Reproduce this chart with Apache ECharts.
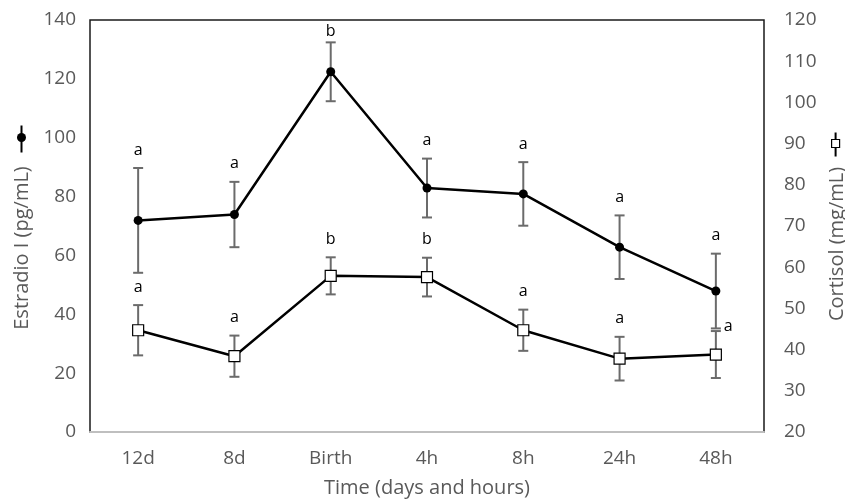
<!DOCTYPE html>
<html>
<head>
<meta charset="utf-8">
<script src="https://cdn.jsdelivr.net/npm/echarts@6/dist/echarts.min.js"></script>
<style>
  html, body { margin: 0; padding: 0; background: #fff; }
  #main { width: 845px; height: 503px; }
</style>
</head>
<body>
<div id="main"></div>
<script>
var chartDom = document.getElementById('main');
var myChart = echarts.init(chartDom);

// data
var categories = ['12d', '8d', 'Birth', '4h', '8h', '24h', '48h'];
var estradiolMean = [71.9, 73.9, 122.4, 82.9, 80.9, 62.8, 47.9];
var estradiolErr = [17.8, 11.1, 10.0, 10.0, 10.8, 10.8, 12.7];
var estradiolLetters = ['a', 'a', 'b', 'a', 'a', 'a', 'a'];
var cortisolMean = [44.7, 38.4, 57.9, 57.6, 44.7, 37.8, 38.8];
var cortisolErr = [6.1, 5.0, 4.5, 4.7, 5.0, 5.3, 5.7];
var cortisolLetters = ['a', 'a', 'b', 'b', 'a', 'a', 'a'];

var font = '"Open Sans", "Noto Sans", sans-serif';
var gridTop = 20;

function errData(mean, err, letters) {
    return mean.map(function (m, i) {
        return [i, m - err[i], m + err[i], letters[i]];
    });
}

// error bars + significance letters
function renderErr(sideLabelIndex) {
    return function (params, api) {
        var i = api.value(0);
        var lo = api.coord([i, api.value(1)]);
        var hi = api.coord([i, api.value(2)]);
        var cap = 5;
        var st = { stroke: '#6b6b6b', lineWidth: 2 };
        var side = (i === sideLabelIndex);
        var ty = side ? hi[1] - 5 : Math.max(hi[1] - 18, gridTop + 11);
        return {
            type: 'group',
            children: [
                { type: 'line', shape: { x1: hi[0], y1: hi[1], x2: lo[0], y2: lo[1] }, style: st },
                { type: 'line', shape: { x1: hi[0] - cap, y1: hi[1], x2: hi[0] + cap, y2: hi[1] }, style: st },
                { type: 'line', shape: { x1: lo[0] - cap, y1: lo[1], x2: lo[0] + cap, y2: lo[1] }, style: st },
                {
                    type: 'text',
                    style: {
                        text: api.value(3),
                        x: side ? hi[0] + 8 : hi[0],
                        y: ty,
                        align: side ? 'left' : 'center',
                        verticalAlign: 'middle',
                        fill: '#000',
                        font: '16px ' + font
                    }
                }
            ]
        };
    };
}

var option = {
    animation: false,
    grid: {
        left: 90,
        right: 81,
        top: gridTop,
        bottom: 71,
        outerBoundsMode: 'none',
        containLabel: false,
        show: true,
        borderColor: '#1a1a1a',
        borderWidth: 1.5
    },
    xAxis: {
        type: 'category',
        data: categories,
        boundaryGap: true,
        name: 'Time (days and hours)',
        nameLocation: 'middle',
        nameGap: 46,
        nameTextStyle: { color: '#595959', fontSize: 20, fontFamily: font },
        axisLine: { lineStyle: { color: '#bfbfbf', width: 2 } },
        axisTick: { show: false },
        axisLabel: { color: '#595959', fontSize: 19, fontFamily: font, margin: 17 }
    },
    yAxis: [{
        type: 'value',
        min: 0,
        max: 140,
        interval: 20,
        position: 'left',
        name: 'Estradio I (pg/mL)',
        nameLocation: 'middle',
        nameGap: 58,
        nameTextStyle: { color: '#595959', fontSize: 20, fontFamily: font, padding: [0, 44, 0, 0] },
        axisLine: { show: false },
        axisTick: { show: false },
        splitLine: { show: false },
        axisLabel: { color: '#595959', fontSize: 19, fontFamily: font, margin: 14 }
    }, {
        type: 'value',
        min: 20,
        max: 120,
        interval: 10,
        position: 'right',
        name: 'Cortisol (mg/mL)',
        nameLocation: 'middle',
        nameGap: 62,
        nameTextStyle: { color: '#595959', fontSize: 20, fontFamily: font, padding: [0, 36, 0, 0] },
        axisLine: { show: false },
        axisTick: { show: false },
        splitLine: { show: false },
        axisLabel: { color: '#595959', fontSize: 19, fontFamily: font, margin: 20 }
    }],
    series: [{
        type: 'custom',
        yAxisIndex: 0,
        data: errData(estradiolMean, estradiolErr, estradiolLetters),
        renderItem: renderErr(-1),
        z: 1
    }, {
        type: 'custom',
        yAxisIndex: 1,
        data: errData(cortisolMean, cortisolErr, cortisolLetters),
        renderItem: renderErr(6),
        z: 1
    }, {
        name: 'Estradio I',
        type: 'line',
        yAxisIndex: 0,
        data: estradiolMean,
        symbol: 'circle',
        symbolSize: 9,
        lineStyle: { color: '#000', width: 2.5 },
        itemStyle: { color: '#000' },
        z: 3
    }, {
        name: 'Cortisol',
        type: 'line',
        yAxisIndex: 1,
        data: cortisolMean,
        symbol: 'rect',
        symbolSize: 11,
        lineStyle: { color: '#000', width: 2.5 },
        itemStyle: { color: '#fff', borderColor: '#000', borderWidth: 1.2 },
        z: 3
    }],
    // legend glyphs drawn next to the axis titles
    graphic: [{
        type: 'group',
        left: 17,
        top: 123,
        children: [
            { type: 'line', shape: { x1: 5, y1: 0, x2: 5, y2: 27 }, style: { stroke: '#000', lineWidth: 2 } },
            { type: 'circle', shape: { cx: 5, cy: 12, r: 4.5 }, style: { fill: '#000' } }
        ]
    }, {
        type: 'group',
        left: 831,
        top: 130,
        children: [
            { type: 'line', shape: { x1: 6, y1: 0, x2: 6, y2: 24 }, style: { stroke: '#000', lineWidth: 2 } },
            { type: 'rect', shape: { x: 2, y: 7, width: 8, height: 8 }, style: { fill: '#fff', stroke: '#000', lineWidth: 1.2 } }
        ]
    }]
};

myChart.setOption(option);
window.addEventListener('resize', function () {
    myChart.resize();
});
</script>
</body>
</html>
